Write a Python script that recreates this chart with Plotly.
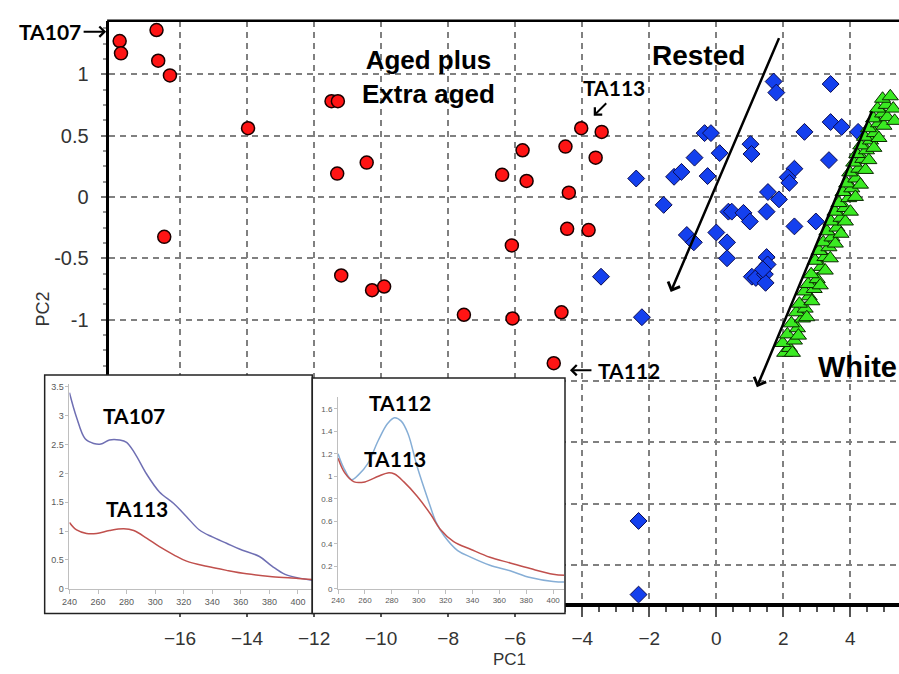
import plotly.graph_objects as go

W, H = 899, 674


def px(x):
    return x / W


def py(y):
    return 1 - y / H


# ---------------- main PCA scores ----------------
aged_x = [-17.8, -17.76, -16.7, -16.65, -16.3, -13.97, -16.47, -11.48, -11.29, -11.31, -10.43,
          -11.19, -10.27, -9.91, -7.53, -6.08, -6.39, -5.78, -5.66, -6.1, -4.62, -4.85, -4.5,
          -4.03, -3.6, -3.42, -4.4, -4.45, -3.81]
aged_y = [1.27, 1.17, 1.36, 1.11, 0.99, 0.56, -0.325, 0.78, 0.78, 0.19, 0.28,
          -0.64, -0.76, -0.73, -0.96, -0.99, 0.18, 0.38, 0.13, -0.395, -0.94, -1.355, 0.41,
          0.56, 0.32, 0.53, 0.035, -0.26, -0.27]

rested_x = [-3.44, -2.22, -2.39, -1.57, -1.26, -1.04, -0.65, -0.26, -0.35, -0.16, 0.1, -0.88,
            -0.67, 0.0, 0.32, 0.32, 0.36, 1.71, 1.79, 3.41, 2.63, 3.41, 3.74, 4.23, 1.02, 1.05,
            3.36, 2.33, 2.13, 2.18, 1.54, 1.87, 0.46, 0.81, 1.0, 1.5, 2.33, 2.97, 1.5, 1.06,
            1.18, 1.53, 1.45, 1.47, 1.39, -2.32, -2.32]
rested_y = [-0.65, -0.98, 0.15, -0.065, 0.164, 0.204, 0.32, 0.17, 0.52, 0.52, 0.357, -0.31,
            -0.37, -0.29, -0.37, -0.5, -0.12, 0.94, 0.85, 0.92, 0.53, 0.61, 0.57, 0.53, 0.43, 0.35,
            0.30, 0.23, 0.16, 0.115, 0.04, -0.02, -0.12, -0.13, -0.2, -0.12, -0.24, -0.2, -0.49, -0.65,
            -0.66, -0.55, -0.63, -0.70, -0.59, -2.64, -3.24]

white_x = [2.04, 2.18, 1.98, 2.33, 2.12, 2.42, 2.24, 2.57, 2.39, 2.65, 2.48, 2.77, 2.63, 2.92,
           2.74, 3.01, 2.83, 3.13, 2.95, 3.24, 3.07, 3.36, 3.19, 3.45, 3.30, 3.60, 3.42, 3.72,
           3.54, 3.83, 3.66, 3.95, 3.78, 4.04, 3.89, 4.16, 3.98, 4.25, 4.10, 4.37, 4.19, 4.48,
           4.31, 4.60, 4.42, 4.72, 4.54, 4.84, 4.69, 4.96, 4.81, 5.07, 4.96, 5.19,
           2.27, 2.45, 2.70, 2.85, 3.10, 3.25, 3.40, 3.55, 3.72, 3.85, 4.00, 4.15, 4.30, 4.45,
           4.55, 4.70, 4.85, 5.00, 5.10, 5.28, 5.32]
white_y = [-1.27, -1.23, -1.19, -1.17, -1.12, -1.07, -1.03, -0.99, -0.94, -0.91, -0.87, -0.81,
           -0.77, -0.75, -0.71, -0.67, -0.63, -0.57, -0.52, -0.49, -0.44, -0.41, -0.37, -0.33,
           -0.28, -0.25, -0.20, -0.17, -0.12, -0.09, -0.05, -0.01, 0.04, 0.07, 0.11, 0.15, 0.20,
           0.23, 0.28, 0.31, 0.35, 0.38, 0.42, 0.46, 0.49, 0.52, 0.56, 0.60, 0.64, 0.68, 0.72,
           0.75, 0.80, 0.82,
           -1.27, -1.13, -0.98, -0.85, -0.72, -0.60, -0.50, -0.38, -0.30, -0.20, -0.12, 0.00,
           0.10, 0.22, 0.30, 0.40, 0.48, 0.58, 0.65, 0.72, 0.62]

x_ticks = [-16, -14, -12, -10, -8, -6, -4, -2, 0, 2, 4]
y_ticks = [-3, -2.5, -2, -1.5, -1, -0.5, 0, 0.5, 1]
y_ticktext = ["", "", "", "", "-1", "-0.5", "0", "0.5", "1"]  # lower labels hidden behind insets

# ---------------- inset spectra ----------------
wl_a107 = [240, 245, 251, 257, 262, 268, 275, 280, 286, 294, 303, 313, 322, 331, 340, 350, 359,
           373, 382, 391, 400, 410]
ta107 = [3.40, 2.97, 2.60, 2.52, 2.51, 2.58, 2.58, 2.54, 2.34, 1.99, 1.68, 1.48, 1.25, 1.02,
         0.90, 0.79, 0.69, 0.56, 0.39, 0.25, 0.19, 0.15]
wl_a113 = [240, 245, 252, 259, 268, 278, 285, 294, 303, 313, 322, 336, 350, 364, 382, 400, 410]
ta113_a = [1.15, 1.02, 0.96, 0.96, 1.01, 1.04, 1.01, 0.88, 0.73, 0.59, 0.48, 0.39, 0.32, 0.26,
           0.21, 0.18, 0.16]

wl_b112 = [240, 244, 250, 255, 262, 270, 277, 282, 287, 292, 299, 307, 313, 319, 329, 339, 353,
           368, 383, 400, 409]
ta112 = [1.20, 1.08, 0.97, 1.01, 1.11, 1.32, 1.47, 1.52, 1.49, 1.38, 1.08, 0.79, 0.59, 0.47,
         0.34, 0.28, 0.21, 0.16, 0.10, 0.065, 0.06]
wl_b113 = [240, 245, 252, 260, 270, 277, 282, 289, 299, 309, 316, 326, 339, 353, 368, 383, 400, 409]
ta113_b = [1.16, 1.03, 0.95, 0.95, 1.00, 1.03, 1.02, 0.95, 0.82, 0.66, 0.53, 0.42, 0.35, 0.28,
           0.23, 0.18, 0.13, 0.12]

wl_ticks = [240, 260, 280, 300, 320, 340, 360, 380, 400]

fig = go.Figure()

# main scatter
fig.add_trace(go.Scatter(x=aged_x, y=aged_y, mode="markers", name="Aged",
                         marker=dict(symbol="circle", size=13, color="#ff1414",
                                     line=dict(color="#1a0000", width=1.5))))
fig.add_trace(go.Scatter(x=rested_x, y=rested_y, mode="markers", name="Rested",
                         marker=dict(symbol="diamond", size=13, color="#1440ee",
                                     line=dict(color="#0a0a50", width=1))))
fig.add_trace(go.Scatter(x=white_x, y=white_y, mode="markers", name="White",
                         marker=dict(symbol="triangle-up", size=14, color="#3aea22",
                                     line=dict(color="#0a2a00", width=1))))

# inset backgrounds (drawn over main plot)
box1 = (37, 377, 307, 618)
box2 = (307, 380, 562, 618)
fig.add_trace(go.Scatter(x=[0, 1, 1, 0, 0], y=[0, 0, 1, 1, 0], mode="lines", fill="toself",
                         fillcolor="white", line=dict(width=0, color="white"),
                         xaxis="x2", yaxis="y2", hoverinfo="skip", showlegend=False))
fig.add_trace(go.Scatter(x=wl_a107, y=ta107, mode="lines", line=dict(color="#6f6fb3", width=1.5, shape="spline"),
                         xaxis="x3", yaxis="y3", showlegend=False))
fig.add_trace(go.Scatter(x=wl_a113, y=ta113_a, mode="lines", line=dict(color="#c0504d", width=1.5, shape="spline"),
                         xaxis="x3", yaxis="y3", showlegend=False))
fig.add_trace(go.Scatter(x=[0, 1, 1, 0, 0], y=[0, 0, 1, 1, 0], mode="lines", fill="toself",
                         fillcolor="white", line=dict(width=0, color="white"),
                         xaxis="x4", yaxis="y4", hoverinfo="skip", showlegend=False))
fig.add_trace(go.Scatter(x=wl_b112, y=ta112, mode="lines", line=dict(color="#86aed6", width=1.5, shape="spline"),
                         xaxis="x5", yaxis="y5", showlegend=False))
fig.add_trace(go.Scatter(x=wl_b113, y=ta113_b, mode="lines", line=dict(color="#c0504d", width=1.5, shape="spline"),
                         xaxis="x5", yaxis="y5", showlegend=False))

grid = dict(showgrid=True, gridcolor="#808080", gridwidth=1.5, griddash="6px,5px")
tickfont = dict(family="Liberation Sans, Arial, sans-serif", size=19, color="#333333")
hidden = dict(visible=False, range=[0, 1], fixedrange=True, showgrid=False, zeroline=False)
inset_font = dict(family="Liberation Sans, Arial, sans-serif", size=9, color="#595959")

fig.update_layout(
    width=W, height=H,
    margin=dict(l=0, r=0, t=0, b=0),
    paper_bgcolor="white", plot_bgcolor="white",
    showlegend=False,
    xaxis=dict(domain=[px(101.5), 1], range=[-18.13, 5.45], tickvals=x_ticks, **grid,
               showline=True, linecolor="black", linewidth=4, zeroline=False,
               ticks="outside", ticklen=10, tickwidth=1.5, tickcolor="#555555",
               minor=dict(ticks="outside", ticklen=5, dtick=0.5, tick0=0, tickcolor="#555555", showgrid=False),
               tickfont=tickfont, ticklabelstandoff=6, anchor="y"),
    yaxis=dict(domain=[py(607), py(19)], range=[-3.306, 1.435], tickvals=y_ticks, ticktext=y_ticktext,
               **grid, showline=True, linecolor="black", linewidth=3, zeroline=False,
               ticks="outside", ticklen=5, tickwidth=1.5, tickcolor="#777777",
               minor=dict(ticks="outside", ticklen=3, dtick=0.125, tick0=0, tickcolor="#999999", showgrid=False),
               tickfont=dict(tickfont, size=20), ticklabelstandoff=8, anchor="x"),
    xaxis2=dict(domain=[px(box1[0]), px(box1[2])], anchor="y2", **hidden),
    yaxis2=dict(domain=[py(box1[3]), py(box1[1])], anchor="x2", **hidden),
    xaxis3=dict(domain=[px(62), px(307)], range=[240, 410], anchor="y3", tickvals=wl_ticks,
                showline=True, linecolor="#bfbfbf", linewidth=1, ticks="outside", ticklen=4,
                tickcolor="#bfbfbf", showgrid=False, zeroline=False, tickfont=inset_font,
                layer="above traces", fixedrange=True),
    yaxis3=dict(domain=[py(593), py(386)], range=[0, 3.55], dtick=0.5, anchor="x3",
                showline=True, linecolor="#bfbfbf", linewidth=1, ticks="outside", ticklen=3,
                tickcolor="#bfbfbf", showgrid=False, zeroline=False, tickfont=inset_font,
                layer="above traces", fixedrange=True),
    xaxis4=dict(domain=[px(box2[0]), px(box2[2])], anchor="y4", **hidden),
    yaxis4=dict(domain=[py(box2[3]), py(box2[1])], anchor="x4", **hidden),
    xaxis5=dict(domain=[px(333), px(561)], range=[240, 408.1], anchor="y5", tickvals=wl_ticks,
                showline=True, linecolor="#bfbfbf", linewidth=1, ticks="outside", ticklen=4,
                tickcolor="#bfbfbf", showgrid=False, zeroline=False,
                tickfont=dict(inset_font, size=8), layer="above traces", fixedrange=True),
    yaxis5=dict(domain=[py(593), py(399.6)], range=[0, 1.7], dtick=0.2, anchor="x5",
                showline=True, linecolor="#bfbfbf", linewidth=1, ticks="outside", ticklen=3,
                tickcolor="#bfbfbf", showgrid=False, zeroline=False,
                tickfont=dict(inset_font, size=8), layer="above traces", fixedrange=True),
)

# borders
fig.add_shape(type="line", xref="paper", yref="paper", x0=px(100), x1=1, y0=py(19), y1=py(19),
              line=dict(color="black", width=2.5), layer="above")
for b in (box1, box2):
    fig.add_shape(type="rect", xref="paper", yref="paper", x0=px(b[0]), x1=px(b[2]),
                  y0=py(b[3]), y1=py(b[1]), line=dict(color="#222222", width=1.5),
                  fillcolor="rgba(0,0,0,0)", layer="above")

arial_b = "Liberation Sans, Arial, sans-serif"
calib = "Lato, Carlito, Calibri, sans-serif"


def label(text, x, y, size, family, xanchor="center", bold=True, color="black", angle=0):
    fig.add_annotation(text=f"<b>{text}</b>" if bold else text, x=px(x), y=py(y),
                       xref="paper", yref="paper", showarrow=False, xanchor=xanchor,
                       yanchor="middle", textangle=angle,
                       font=dict(family=family, size=size, color=color))


def parrow(xh, yh, xt, yt, width=2):
    fig.add_annotation(text="", x=px(xh), y=py(yh), xref="paper", yref="paper",
                       ax=xt - xh, ay=yt - yh, showarrow=True, arrowhead=4, arrowsize=1,
                       arrowwidth=width, arrowcolor="black")


label("TA107", 9, 30, 21, calib, xanchor="left")
parrow(99, 30, 75, 30)
label("Aged plus<br>Extra aged", 424, 76, 26, arial_b)
label("Rested", 697, 54, 28, arial_b)
label("White", 815, 369, 29, arial_b, xanchor="left")
label("TA113", 611, 86, 21, calib)
parrow(591, 115, 605, 101)
label("TA112", 593, 372, 21, calib, xanchor="left")
parrow(567, 372, 590, 372)

label("TA107", 127, 418, 21, calib)
label("TA113", 130, 512, 21, calib)
label("TA112", 396, 405, 21, calib)
label("TA113", 390, 461, 21, calib)

# long trend arrows (data coordinates)
fig.add_annotation(text="", x=-1.36, y=-0.774, ax=1.89, ay=1.306, xref="x", yref="y",
                   axref="x", ayref="y", showarrow=True, arrowhead=4, arrowsize=1,
                   arrowwidth=2.5, arrowcolor="black")
fig.add_annotation(text="", x=1.21, y=-1.55, ax=4.66, ay=0.71, xref="x", yref="y",
                   axref="x", ayref="y", showarrow=True, arrowhead=4, arrowsize=1,
                   arrowwidth=2.5, arrowcolor="black")

# axis titles
label("PC1", 506, 664, 17, arial_b, bold=False, color="#333333")
label("PC2", 35, 310, 18, arial_b, bold=False, color="#333333", angle=-90)

fig.write_html("out.html", config={"displayModeBar": False})
